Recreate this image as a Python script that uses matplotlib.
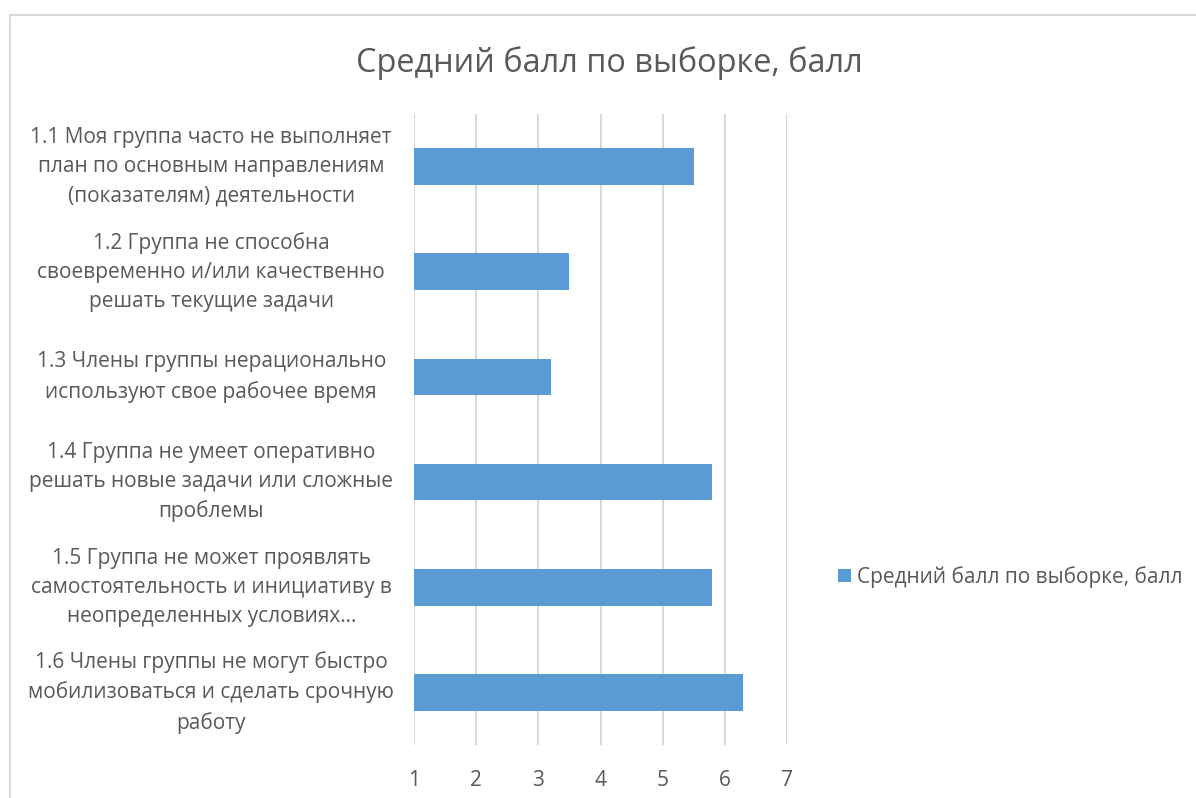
import matplotlib.pyplot as plt
from matplotlib.patches import Rectangle

# data
categories = [
    "1.1 Моя группа часто не выполняет\nплан по основным направлениям\n(показателям) деятельности",
    "1.2 Группа не способна\nсвоевременно и/или качественно\nрешать текущие задачи",
    "1.3 Члены группы нерационально\nиспользуют свое рабочее время",
    "1.4 Группа не умеет оперативно\nрешать новые задачи или сложные\nпроблемы",
    "1.5 Группа не может проявлять\nсамостоятельность и инициативу в\nнеопределенных условиях…",
    "1.6 Члены группы не могут быстро\nмобилизоваться и сделать срочную\nработу",
]
scores = [5.5, 3.5, 3.2, 5.8, 5.8, 6.3]
series_name = "Средний балл по выборке, балл"
x_ticks = [1, 2, 3, 4, 5, 6, 7]

# style
BAR_COLOR = "#5b9bd5"
TEXT_COLOR = "#595959"
GRID_COLOR = "#d9d9d9"
FONT_SIZE = 15
plt.rcParams["font.family"] = ["Open Sans", "DejaVu Sans"]

fig = plt.figure(figsize=(11.96, 7.98), dpi=100)
ax = fig.add_axes([414 / 1196, 1 - 745 / 798, 373 / 1196, 631 / 798])

# chart border
fig.patches.append(Rectangle((9.5 / 1196, -0.1), 1.2, 1 - 15.5 / 798 + 0.1,
                             transform=fig.transFigure, fill=False,
                             edgecolor=GRID_COLOR, linewidth=1.5))

ypos = list(range(len(categories)))
ax.barh(ypos, [s - 1 for s in scores], left=1, height=0.35,
        color=BAR_COLOR, label=series_name, zorder=3)

ax.set_xlim(1, 7)
ax.set_ylim(len(categories) - 0.5, -0.5)
ax.set_xticks(x_ticks)
ax.set_xticklabels([str(t) for t in x_ticks])
ax.xaxis.grid(True, color=GRID_COLOR, linewidth=1.5, zorder=0)
ax.set_yticks(ypos)
ax.set_yticklabels(categories, fontsize=FONT_SIZE, color=TEXT_COLOR,
                   ha="center", va="center", multialignment="center",
                   linespacing=1.5)
ax.tick_params(axis="y", length=0, pad=146)
ax.tick_params(axis="x", length=0, pad=18, labelsize=FONT_SIZE,
               labelcolor=TEXT_COLOR)
for side in ax.spines.values():
    side.set_visible(False)

fig.text(609 / 1196, 1 - 63 / 798, series_name, ha="center", va="center",
         fontsize=23.4, color=TEXT_COLOR)

fig.legend(loc="center left", bbox_to_anchor=(838 / 1196, 1 - 577 / 798),
           frameon=False, fontsize=FONT_SIZE, labelcolor=TEXT_COLOR,
           borderpad=0, borderaxespad=0,
           handlelength=0.62, handleheight=0.62, handletextpad=0.3)

fig.savefig("out.png", dpi=100)
